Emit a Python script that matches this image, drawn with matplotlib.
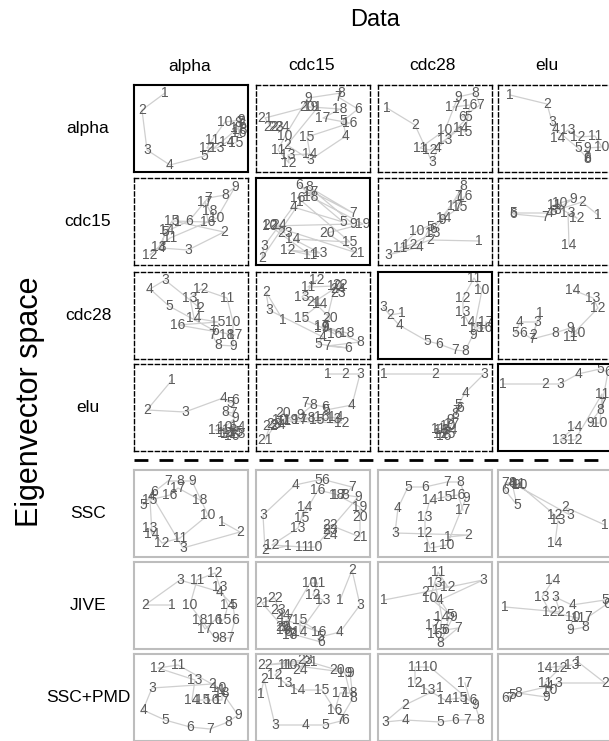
import numpy as np
import matplotlib.pyplot as plt

plt.rcParams['font.family'] = ['Liberation Sans', 'DejaVu Sans']

# column (data set) and row (eigenvector space / method) names
data_names = ["alpha", "cdc15", "cdc28", "elu"]
row_names = ["alpha", "cdc15", "cdc28", "elu", "SSC", "JIVE", "SSC+PMD"]

# embedded time points, (x, y) per time point, y counted downwards
alpha_alpha = [(31, 8), (8, 25), (13, 65), (36, 80), (70, 71), (108, 40), (106, 37), (104, 38), (107, 35),
               (91, 37), (78, 55), (73, 63), (83, 63), (93, 57), (102, 58), (105, 48), (104, 43), (106, 45)]
alpha_cdc15 = [(62, 22), (31, 60), (54, 75), (90, 51), (87, 36), (102, 24), (82, 12), (85, 8), (52, 13),
               (29, 51), (22, 65), (33, 78), (32, 70), (54, 69), (51, 52), (94, 38), (67, 33), (84, 24),
               (55, 22), (51, 22), (9, 33), (15, 42), (20, 42), (26, 42)]
alpha_cdc28 = [(9, 23), (37, 40), (54, 77), (60, 63), (90, 32), (84, 32), (102, 20), (97, 8), (80, 12),
               (67, 45), (42, 63), (52, 65), (67, 55), (83, 43), (87, 47), (92, 20), (75, 22)]
alpha_elu = [(12, 10), (49, 19), (54, 37), (57, 44), (80, 63), (89, 73), (88, 72), (89, 74), (89, 63),
             (104, 62), (97, 51), (80, 52), (70, 45), (60, 53)]

cdc15_alpha = [(44, 44), (90, 54), (54, 72), (27, 70), (31, 54), (55, 43), (74, 20), (91, 17), (101, 9),
               (83, 40), (36, 60), (16, 77), (25, 69), (33, 52), (38, 43), (74, 44), (71, 24), (76, 33)]
cdc15_cdc15 = [(44, 24), (6, 80), (8, 68), (37, 29), (87, 44), (43, 7), (97, 35), (53, 9), (97, 46),
               (14, 48), (54, 77), (32, 72), (64, 75), (37, 61), (94, 64), (42, 20), (55, 14), (55, 19),
               (107, 46), (71, 55), (101, 75), (14, 47), (29, 55), (23, 47)]
cdc15_cdc28 = [(101, 63), (52, 62), (10, 77), (42, 69), (52, 49), (55, 51), (80, 18), (85, 8), (64, 42),
               (39, 53), (22, 70), (32, 67), (55, 55), (66, 40), (82, 29), (87, 18), (77, 28)]
cdc15_elu = [(100, 37), (84, 24), (59, 32), (52, 35), (15, 35), (15, 36), (47, 39), (55, 33), (75, 21),
             (62, 25), (56, 27), (79, 40), (70, 35), (71, 67)]

cdc28_alpha = [(64, 33), (66, 36), (31, 8), (16, 17), (35, 34), (81, 59), (78, 63), (84, 73), (99, 74),
               (99, 50), (93, 26), (67, 17), (56, 26), (60, 46), (84, 50), (44, 53), (101, 63), (93, 63)]
cdc28_cdc15 = [(27, 48), (10, 20), (13, 38), (67, 65), (62, 72), (92, 76), (71, 74), (104, 70), (69, 55),
               (79, 14), (52, 15), (61, 8), (46, 25), (64, 32), (46, 46), (79, 62), (66, 54), (91, 61),
               (66, 56), (74, 46), (58, 30), (84, 13), (82, 21), (82, 17)]
cdc28_cdc28 = [(24, 41), (12, 43), (5, 35), (21, 53), (49, 69), (61, 72), (77, 78), (87, 79), (95, 63),
               (104, 18), (96, 6), (85, 26), (85, 40), (90, 50), (98, 56), (107, 56), (108, 50)]
cdc28_elu = [(42, 41), (35, 63), (39, 50), (22, 50), (17, 61), (25, 61), (34, 67), (57, 61), (72, 56),
             (80, 61), (72, 65), (100, 36), (95, 26), (75, 18)]

elu_alpha = [(38, 16), (13, 46), (51, 48), (89, 34), (96, 39), (101, 36), (99, 49), (91, 48), (101, 54),
             (91, 63), (81, 66), (91, 69), (96, 66), (104, 63), (102, 68), (98, 72), (94, 70), (104, 70)]
elu_cdc15 = [(72, 10), (89, 10), (104, 10), (96, 41), (70, 46), (69, 43), (49, 39), (57, 41), (44, 51),
             (24, 56), (28, 57), (86, 59), (78, 55), (80, 53), (61, 56), (66, 53), (44, 56), (52, 54),
             (35, 56), (27, 49), (9, 76), (14, 62), (18, 60), (22, 61)]
elu_cdc28 = [(6, 10), (57, 10), (106, 10), (87, 29), (80, 41), (82, 44), (78, 47), (77, 50), (72, 56),
             (70, 62), (60, 65), (63, 70), (64, 66), (72, 66), (70, 70), (66, 72), (74, 60)]
elu_elu = [(5, 20), (47, 20), (62, 20), (80, 10), (102, 5), (110, 8), (104, 40), (102, 46), (92, 59),
           (102, 59), (104, 30), (77, 76), (62, 76), (77, 63)]

ssc_alpha = [(88, 52), (106, 62), (49, 78), (18, 26), (9, 35), (20, 22), (34, 11), (46, 11), (58, 11),
             (74, 45), (46, 68), (28, 73), (16, 58), (18, 64), (16, 30), (36, 25), (44, 18), (66, 30)]
ssc_cdc15 = [(32, 76), (9, 80), (7, 45), (39, 15), (62, 10), (69, 10), (96, 17), (89, 25), (102, 27),
             (59, 77), (46, 77), (16, 75), (42, 58), (49, 37), (46, 48), (62, 20), (83, 25), (81, 25),
             (104, 37), (104, 47), (104, 67), (74, 55), (74, 60), (74, 65)]
ssc_cdc28 = [(70, 67), (90, 65), (17, 63), (20, 38), (30, 17), (47, 17), (69, 12), (82, 12), (88, 28),
             (69, 75), (52, 78), (47, 63), (47, 47), (52, 30), (67, 27), (80, 25), (85, 40)]
ssc_elu = [(107, 55), (67, 37), (72, 45), (14, 13), (19, 35), (7, 20), (7, 13), (14, 13), (18, 15),
           (22, 15), (20, 14), (57, 45), (60, 50), (57, 73)]

jive_alpha = [(38, 43), (11, 43), (46, 18), (86, 30), (99, 43), (101, 58), (96, 76), (88, 76), (81, 76),
              (56, 43), (63, 18), (81, 11), (86, 25), (94, 43), (90, 58), (81, 58), (71, 67), (66, 58)]
jive_cdc15 = [(84, 38), (96, 8), (104, 43), (84, 70), (64, 75), (65, 80), (36, 72), (32, 70), (28, 65),
              (54, 21), (62, 21), (57, 33), (67, 38), (44, 70), (44, 58), (63, 70), (30, 58), (34, 73),
              (28, 68), (27, 65), (6, 41), (19, 36), (22, 48), (27, 53)]
jive_cdc28 = [(6, 38), (47, 30), (105, 18), (62, 38), (72, 53), (67, 68), (80, 66), (62, 81), (75, 55),
              (52, 36), (60, 10), (70, 25), (57, 21), (64, 55), (62, 68), (57, 72), (55, 63)]
jive_elu = [(7, 45), (62, 50), (57, 35), (74, 43), (107, 38), (109, 42), (90, 55), (87, 65), (72, 68),
            (75, 55), (80, 56), (52, 50), (44, 35), (55, 18)]

pmd_alpha = [(88, 36), (78, 30), (18, 34), (9, 56), (31, 66), (56, 73), (76, 75), (94, 68), (104, 61),
             (85, 34), (44, 11), (24, 14), (61, 26), (58, 46), (69, 46), (78, 46), (88, 46), (88, 39)]
pmd_cdc15 = [(5, 40), (8, 25), (19, 71), (49, 71), (69, 71), (89, 66), (84, 66), (97, 44), (94, 19),
             (34, 11), (29, 11), (19, 21), (29, 29), (42, 36), (66, 36), (79, 56), (84, 39), (94, 39),
             (89, 19), (81, 16), (54, 8), (9, 11), (49, 6), (44, 16)]
pmd_cdc28 = [(62, 34), (27, 51), (7, 68), (27, 66), (62, 68), (77, 66), (89, 66), (102, 66), (97, 51),
             (52, 13), (37, 13), (37, 29), (50, 36), (67, 46), (82, 44), (92, 46), (87, 29)]
pmd_elu = [(80, 8), (107, 29), (60, 29), (52, 32), (14, 41), (7, 44), (12, 44), (20, 39), (48, 43),
           (52, 36), (47, 29), (62, 14), (74, 11), (47, 14)]

grid = [
    [alpha_alpha, alpha_cdc15, alpha_cdc28, alpha_elu],
    [cdc15_alpha, cdc15_cdc15, cdc15_cdc28, cdc15_elu],
    [cdc28_alpha, cdc28_cdc15, cdc28_cdc28, cdc28_elu],
    [elu_alpha, elu_cdc15, elu_cdc28, elu_elu],
    [ssc_alpha, ssc_cdc15, ssc_cdc28, ssc_elu],
    [jive_alpha, jive_cdc15, jive_cdc28, jive_elu],
    [pmd_alpha, pmd_cdc15, pmd_cdc28, pmd_elu],
]

W, H = 609.0, 741.0
col_left = [134, 256, 378, 498]
row_top = [85, 178, 272, 364, 470, 562, 654]
pw, ph = 114, 87

fig = plt.figure(figsize=(W / 100, H / 100), dpi=100)


def add_panel(r, c, pts):
    ax = fig.add_axes([col_left[c] / W, 1 - (row_top[r] + ph) / H, pw / W, ph / H])
    xs = [p[0] for p in pts]
    ys = [p[1] for p in pts]
    ax.plot(xs, ys, '-', color='#cfcfcf', lw=0.9, zorder=1)
    for i, (x, y) in enumerate(pts):
        ax.text(x, y, str(i + 1), ha='center', va='center', fontsize=10,
                color='#5a5a5a', zorder=2)
    ax.set_xlim(0, pw)
    ax.set_ylim(ph, 0)
    ax.set_xticks([])
    ax.set_yticks([])
    for s in ax.spines.values():
        if r >= 4:
            s.set_color('#bdbdbd')
            s.set_linewidth(1.5)
        elif r == c:
            s.set_color('black')
            s.set_linewidth(1.5)
        else:
            s.set_color('black')
            s.set_linewidth(1.0)
            s.set_linestyle((0, (3, 2)))
    return ax


for r in range(len(row_names)):
    for c in range(len(data_names)):
        add_panel(r, c, grid[r][c])

# labels
fig.text(375 / W, 1 - 20 / H, "Data", ha='center', va='center', fontsize=17)
col_centers = [190, 312, 432, 547]
for c, name in enumerate(data_names):
    fig.text(col_centers[c] / W, 1 - 66 / H, name, ha='center', va='center', fontsize=12.5)
for r, name in enumerate(row_names):
    fig.text(88 / W, 1 - (row_top[r] + ph / 2) / H, name, ha='center', va='center', fontsize=12.5)
fig.text(30 / W, 1 - 402 / H, "Eigenvector space", ha='center', va='center',
         rotation=90, fontsize=22)

# separator between the single data-set spaces and the joint methods
fig.add_artist(plt.Line2D([134 / W, 1.0], [1 - 460 / H, 1 - 460 / H], color='black',
                          lw=2, linestyle=(0, (5, 4))))

plt.savefig("out.png", dpi=100)
